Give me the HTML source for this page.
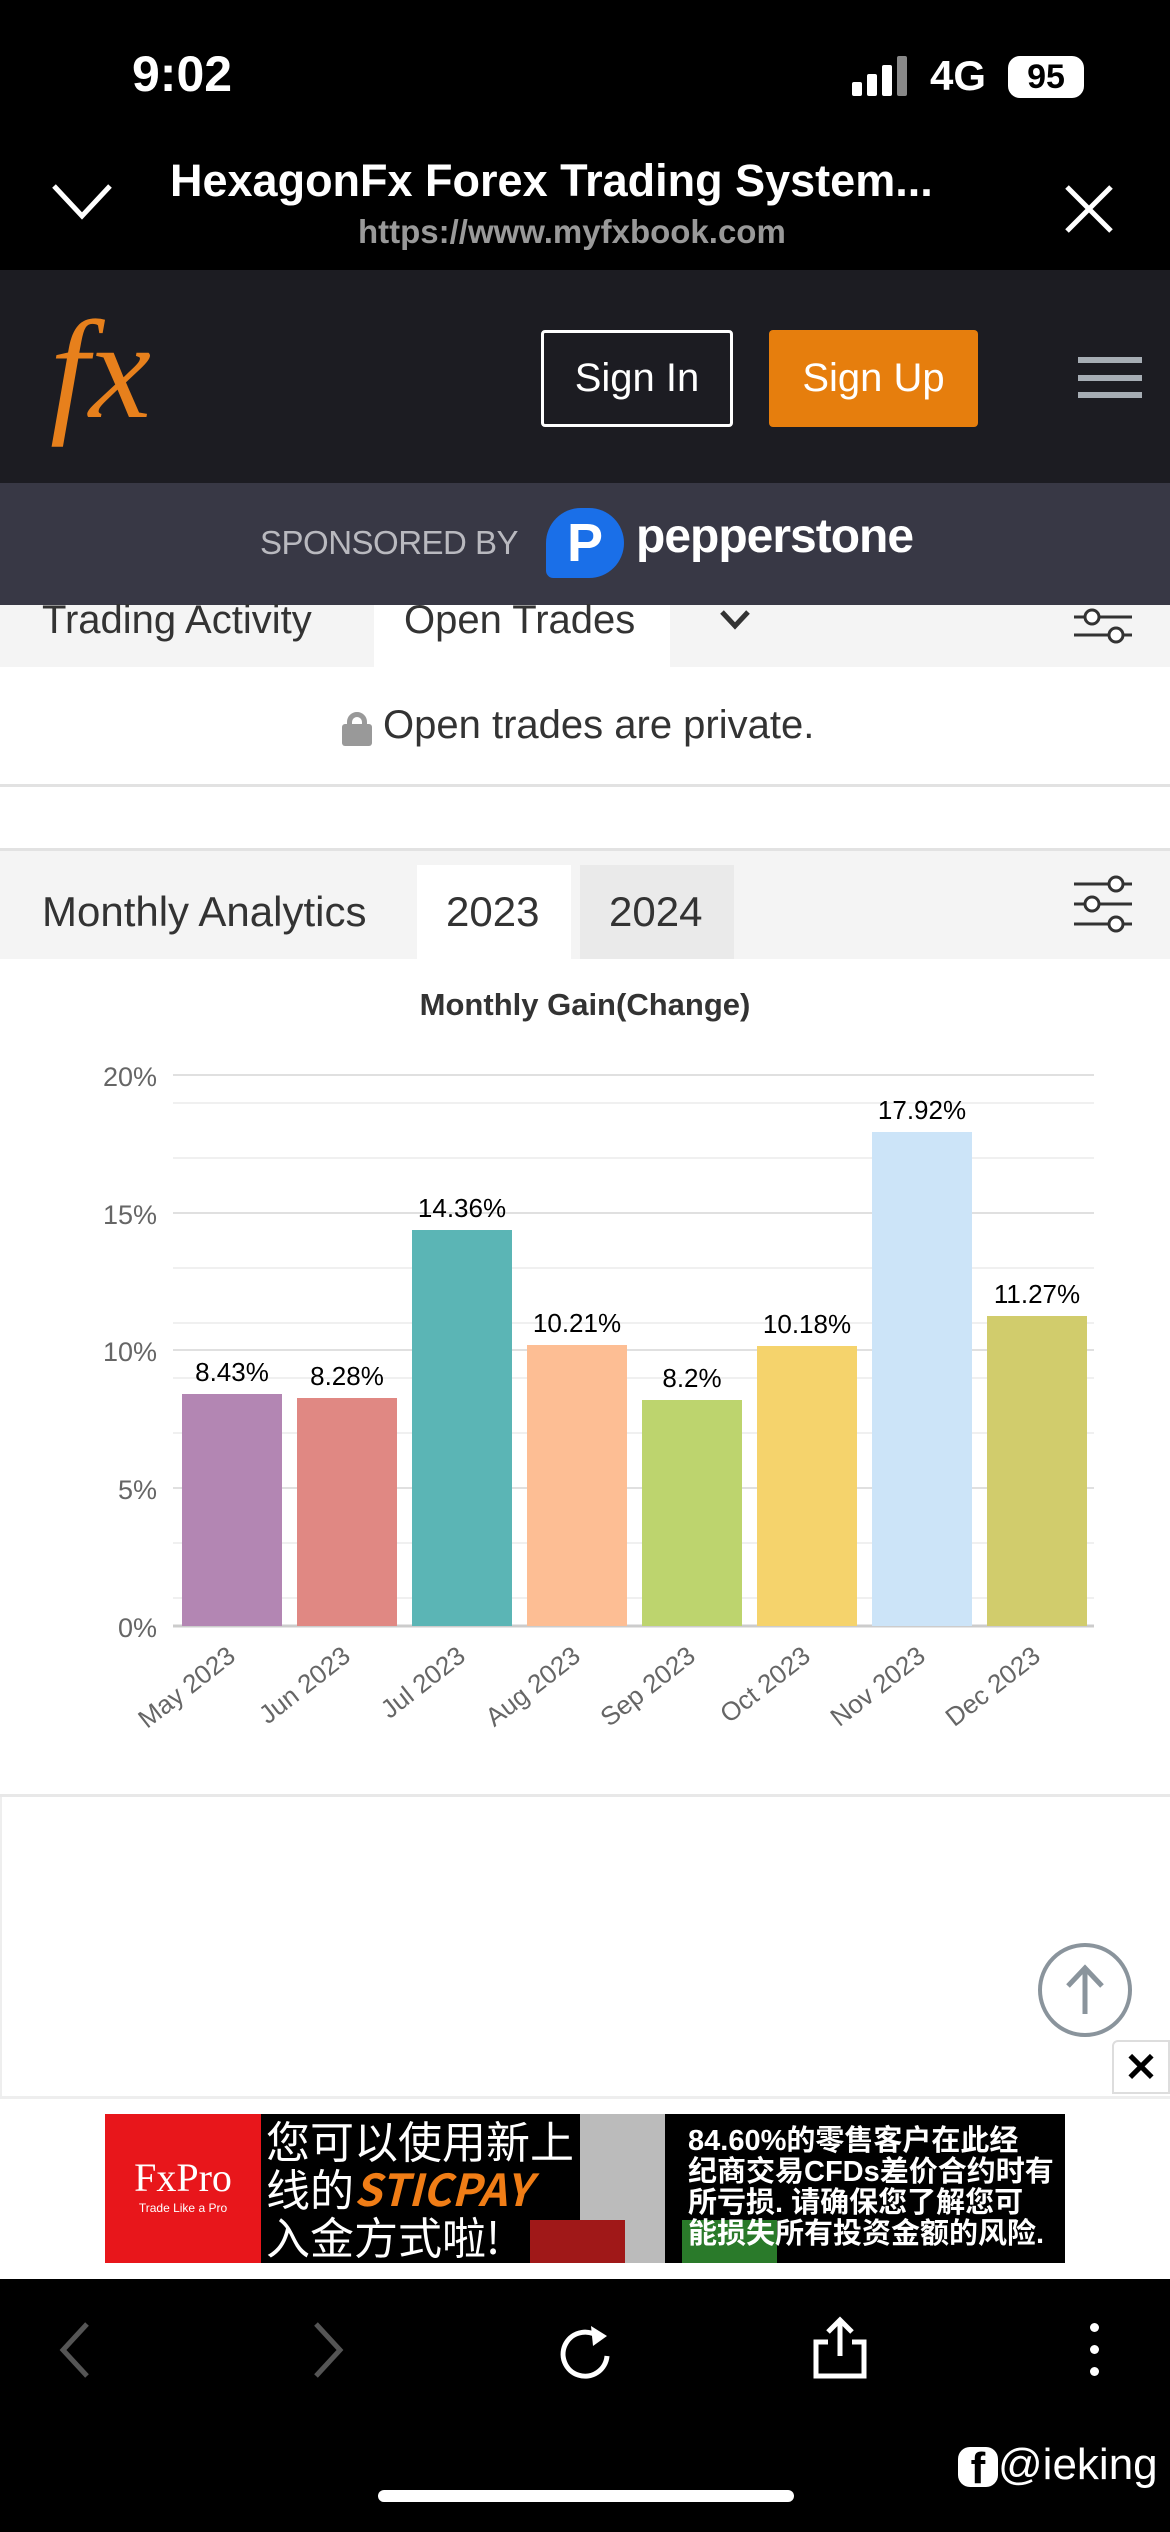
<!DOCTYPE html>
<html><head><meta charset="utf-8"><style>
*{margin:0;padding:0;box-sizing:border-box}
body{width:1170px;height:2532px;position:relative;overflow:hidden;background:#fff;font-family:"Liberation Sans","Noto Sans CJK SC",sans-serif}
.a{position:absolute}
</style></head><body>
<div class="a" style="left:0;top:0;width:1170px;height:270px;background:#000"></div>
<div class="a" style="left:132px;top:45px;color:#fff;font-size:50px;font-weight:bold">9:02</div>
<div class="a" style="left:852px;top:56px;width:64px;height:40px">
 <div class="a" style="left:0;top:26px;width:10px;height:14px;background:#fff;border-radius:2px"></div>
 <div class="a" style="left:15px;top:18px;width:10px;height:22px;background:#fff;border-radius:2px"></div>
 <div class="a" style="left:30px;top:9px;width:10px;height:31px;background:#fff;border-radius:2px"></div>
 <div class="a" style="left:45px;top:0;width:10px;height:40px;background:#888;border-radius:2px"></div>
</div>
<div class="a" style="left:930px;top:52px;color:#fff;font-size:42px;font-weight:bold">4G</div>
<div class="a" style="left:1008px;top:56px;width:76px;height:42px;background:#fff;border-radius:12px;color:#000;font-size:34px;font-weight:bold;text-align:center;line-height:42px">95</div>
<svg class="a" style="left:50px;top:180px" width="70" height="45"><polyline points="4,6 32,36 60,6" fill="none" stroke="#fff" stroke-width="5"/></svg>
<div class="a" style="left:170px;top:155px;color:#fff;font-size:45px;font-weight:bold;white-space:nowrap">HexagonFx Forex Trading System...</div>
<div class="a" style="left:358px;top:213px;color:#999;font-size:33px;font-weight:bold">https://www.myfxbook.com</div>
<svg class="a" style="left:1063px;top:183px" width="52" height="52"><path d="M4 4L48 48M48 4L4 48" stroke="#fff" stroke-width="5"/></svg>

<div class="a" style="left:0;top:270px;width:1170px;height:213px;background:#1c1c22"></div>
<div class="a" style="left:50px;top:290px;color:#e7801c;font-size:140px;font-style:italic;font-family:'Liberation Serif',serif">fx</div>
<div class="a" style="left:541px;top:330px;width:192px;height:97px;border:3px solid #fff;border-radius:4px;color:#fff;font-size:40px;text-align:center;line-height:91px">Sign In</div>
<div class="a" style="left:769px;top:330px;width:209px;height:97px;background:#e67e0d;border-radius:4px;color:#fff;font-size:40px;text-align:center;line-height:97px">Sign Up</div>
<div class="a" style="left:1078px;top:357px;width:64px;height:6px;background:#a6adb4"></div>
<div class="a" style="left:1078px;top:375px;width:64px;height:6px;background:#a6adb4"></div>
<div class="a" style="left:1078px;top:392px;width:64px;height:6px;background:#a6adb4"></div>

<div class="a" style="left:0;top:483px;width:1170px;height:122px;background:#383845"></div>
<div class="a" style="left:260px;top:524px;color:#b9b9bf;font-size:33px;letter-spacing:-0.5px">SPONSORED BY</div>
<div class="a" style="left:546px;top:508px;width:78px;height:70px;background:#1a6fe8;border-radius:38px 38px 38px 8px;color:#fff;font-size:54px;font-weight:bold;text-align:center;line-height:70px">P</div>
<div class="a" style="left:636px;top:509px;color:#fff;font-size:48px;font-weight:bold;letter-spacing:-1px">pepperstone</div>

<div class="a" style="left:0;top:605px;width:1170px;height:62px;background:#f4f4f4"></div>
<div class="a" style="left:374px;top:605px;width:296px;height:62px;background:#fff"></div>
<div class="a" style="left:42px;top:598px;color:#333;font-size:40px">Trading Activity</div>
<div class="a" style="left:404px;top:598px;color:#333;font-size:40px">Open Trades</div>
<svg class="a" style="left:718px;top:608px" width="34" height="24"><polyline points="4,4 17,18 30,4" fill="none" stroke="#333" stroke-width="5"/></svg>
<svg class="a" style="left:1070px;top:605px" width="66" height="40"><g stroke="#333" stroke-width="3" fill="#fff"><line x1="4" y1="12" x2="62" y2="12"/><line x1="4" y1="30" x2="62" y2="30"/><circle cx="22" cy="12" r="7"/><circle cx="46" cy="30" r="7"/></g></svg>
<div class="a" style="left:342px;top:712px;width:30px;height:33px"><div class="a" style="left:5px;top:0;width:20px;height:22px;border:5px solid #999;border-radius:10px"></div><div class="a" style="left:0;top:12px;width:30px;height:22px;background:#999;border-radius:3px"></div></div>
<div class="a" style="left:383px;top:703px;color:#333;font-size:40px">Open trades are private.</div>
<div class="a" style="left:0;top:784px;width:1170px;height:3px;background:#e2e2e2"></div>
<div class="a" style="left:0;top:848px;width:1170px;height:3px;background:#e2e2e2"></div>

<div class="a" style="left:0;top:851px;width:1170px;height:108px;background:#f4f4f4"></div>
<div class="a" style="left:417px;top:865px;width:154px;height:94px;background:#fff"></div>
<div class="a" style="left:580px;top:865px;width:154px;height:94px;background:#eaeaea"></div>
<div class="a" style="left:42px;top:888px;color:#333;font-size:42px">Monthly Analytics</div>
<div class="a" style="left:446px;top:888px;color:#333;font-size:42px">2023</div>
<div class="a" style="left:609px;top:888px;color:#333;font-size:42px">2024</div>
<svg class="a" style="left:1070px;top:870px" width="66" height="70"><g stroke="#333" stroke-width="3" fill="#fff"><line x1="4" y1="14" x2="62" y2="14"/><line x1="4" y1="34" x2="62" y2="34"/><line x1="4" y1="54" x2="62" y2="54"/><circle cx="46" cy="14" r="7"/><circle cx="22" cy="34" r="7"/><circle cx="46" cy="54" r="7"/></g></svg>

<svg class="a" style="left:0;top:962px" width="1170" height="840" font-family="Liberation Sans, sans-serif">
<text x="585" y="53" text-anchor="middle" font-size="31" font-weight="bold" fill="#333">Monthly Gain(Change)</text>
<g stroke="#f0f0f0" stroke-width="2">
<line x1="173" x2="1094" y1="141" y2="141"/><line x1="173" x2="1094" y1="196" y2="196"/><line x1="173" x2="1094" y1="306" y2="306"/>
<line x1="173" x2="1094" y1="361" y2="361"/><line x1="173" x2="1094" y1="416" y2="416"/><line x1="173" x2="1094" y1="471" y2="471"/>
<line x1="173" x2="1094" y1="581" y2="581"/><line x1="173" x2="1094" y1="636" y2="636"/>
</g>
<g stroke="#e0e0e0" stroke-width="2">
<line x1="173" x2="1094" y1="113" y2="113"/><line x1="173" x2="1094" y1="251" y2="251"/><line x1="173" x2="1094" y1="388" y2="388"/><line x1="173" x2="1094" y1="526" y2="526"/>
</g>
<line x1="173" x2="1094" y1="664" y2="664" stroke="#ccc" stroke-width="3"/>
<g font-size="27" fill="#666" text-anchor="end">
<text x="157" y="124">20%</text><text x="157" y="262">15%</text><text x="157" y="399">10%</text><text x="157" y="537">5%</text><text x="157" y="675">0%</text>
</g>
<g>
<rect x="182" y="432" width="100" height="232" fill="#b386b3"/>
<rect x="297" y="436" width="100" height="228" fill="#e08883"/>
<rect x="412" y="268" width="100" height="396" fill="#5bb5b5"/>
<rect x="527" y="383" width="100" height="281" fill="#fdbe94"/>
<rect x="642" y="438" width="100" height="226" fill="#bdd46e"/>
<rect x="757" y="384" width="100" height="280" fill="#f5d36c"/>
<rect x="872" y="170" width="100" height="494" fill="#cce4f8"/>
<rect x="987" y="354" width="100" height="310" fill="#d1cc6c"/>
</g>
<g font-size="26" fill="#000" text-anchor="middle">
<text x="232" y="419">8.43%</text><text x="347" y="423">8.28%</text><text x="462" y="255">14.36%</text><text x="577" y="370">10.21%</text>
<text x="692" y="425">8.2%</text><text x="807" y="371">10.18%</text><text x="922" y="157">17.92%</text><text x="1037" y="341">11.27%</text>
</g>
<g font-size="26" fill="#666" text-anchor="end">
<text transform="translate(237,697) rotate(-38)">May 2023</text>
<text transform="translate(352,697) rotate(-38)">Jun 2023</text>
<text transform="translate(467,697) rotate(-38)">Jul 2023</text>
<text transform="translate(582,697) rotate(-38)">Aug 2023</text>
<text transform="translate(697,697) rotate(-38)">Sep 2023</text>
<text transform="translate(812,697) rotate(-38)">Oct 2023</text>
<text transform="translate(927,697) rotate(-38)">Nov 2023</text>
<text transform="translate(1042,697) rotate(-38)">Dec 2023</text>
</g>
</svg>
<div class="a" style="left:0;top:1794px;width:1170px;height:3px;background:#e8e8e8"></div>
<div class="a" style="left:0;top:1797px;width:2px;height:300px;background:#eee"></div>
<div class="a" style="left:1038px;top:1943px;width:94px;height:94px;border:4px solid #8a949c;border-radius:50%"></div>
<svg class="a" style="left:1060px;top:1962px" width="50" height="56"><g stroke="#8a949c" stroke-width="5" fill="none"><line x1="25" y1="6" x2="25" y2="52"/><polyline points="8,24 25,6 42,24"/></g></svg>
<div class="a" style="left:1112px;top:2040px;width:58px;height:54px;background:#fff;border:2px solid #ddd;border-radius:6px 0 0 0;color:#000;font-size:40px;font-weight:bold;text-align:center;line-height:52px">✕</div>
<div class="a" style="left:0;top:2096px;width:1170px;height:3px;background:#eee"></div>
<div class="a" style="left:105px;top:2114px;width:960px;height:149px;background:#000"></div>
<div class="a" style="left:105px;top:2114px;width:156px;height:149px;background:#e8161b;color:#fff;text-align:center">
 <div style="font-family:'Liberation Serif',serif;font-size:40px;margin-top:40px">FxPro</div><div style="font-size:12px">Trade Like a Pro</div></div>
<div class="a" style="left:580px;top:2114px;width:85px;height:149px;background:#bbb"></div>
<div class="a" style="left:530px;top:2220px;width:95px;height:43px;background:#a01818"></div>
<div class="a" style="left:682px;top:2220px;width:95px;height:43px;background:#2a7a2a"></div>
<div class="a" style="left:266px;top:2115px;color:#fff;font-size:44px;line-height:48px;font-family:'Noto Sans CJK SC',sans-serif">您可以使用新上<br>线的<span style="color:#f07d16;font-weight:bold;font-style:italic">STICPAY</span><br>入金方式啦!</div>
<div class="a" style="left:688px;top:2126px;color:#fff;font-size:29px;line-height:31px;font-weight:bold;font-family:'Liberation Sans','Noto Sans CJK SC',sans-serif">84.60%的零售客户在此经<br>纪商交易CFDs差价合约时有<br>所亏损. 请确保您了解您可<br>能损失所有投资金额的风险.</div>
<div class="a" style="left:0;top:2279px;width:1170px;height:253px;background:#000"></div>
<svg class="a" style="left:55px;top:2320px" width="40" height="60"><polyline points="32,4 8,30 32,56" fill="none" stroke="#555" stroke-width="5"/></svg>
<svg class="a" style="left:308px;top:2320px" width="40" height="60"><polyline points="8,4 32,30 8,56" fill="none" stroke="#555" stroke-width="5"/></svg>
<svg class="a" style="left:555px;top:2318px" width="60" height="64"><path d="M45 20 A22 22 0 1 0 52 38" fill="none" stroke="#fff" stroke-width="5"/><polygon points="36,8 52,18 38,28" fill="#fff"/></svg>
<svg class="a" style="left:812px;top:2316px" width="56" height="64"><g stroke="#fff" stroke-width="5" fill="none"><polyline points="16,26 4,26 4,60 52,60 52,26 40,26"/><line x1="28" y1="4" x2="28" y2="40"/><polyline points="16,16 28,4 40,16"/></g></svg>
<div class="a" style="left:1090px;top:2323px;width:9px;height:9px;background:#fff;border-radius:50%"></div>
<div class="a" style="left:1090px;top:2345px;width:9px;height:9px;background:#fff;border-radius:50%"></div>
<div class="a" style="left:1090px;top:2367px;width:9px;height:9px;background:#fff;border-radius:50%"></div>
<div class="a" style="left:958px;top:2440px;color:#fff;font-size:44px"><span style="display:inline-block;width:40px;height:40px;background:#fff;color:#000;border-radius:12px;text-align:center;line-height:44px;font-weight:bold;vertical-align:-4px">f</span>@ieking</div>
<div class="a" style="left:378px;top:2490px;width:416px;height:12px;background:#fff;border-radius:6px"></div>
</body></html>
